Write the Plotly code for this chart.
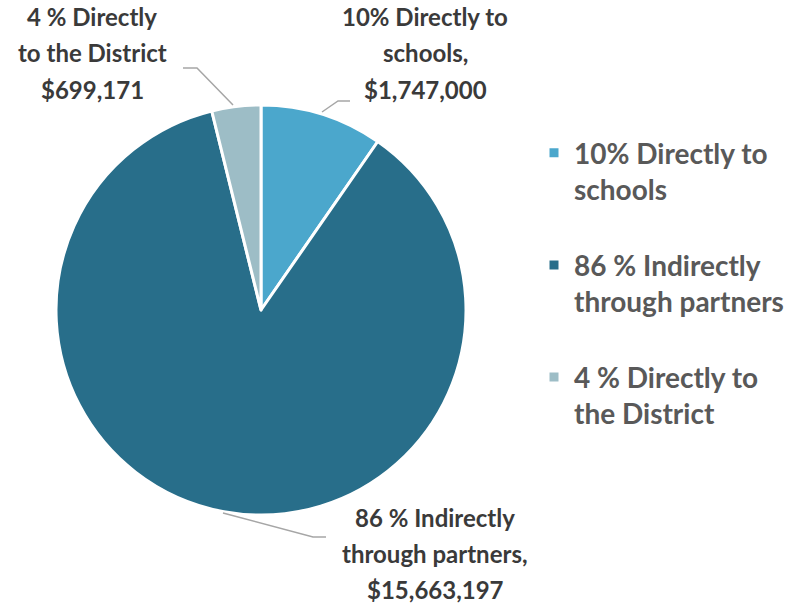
import plotly.graph_objects as go

labels = ["10% Directly to<br>schools", "86 % Indirectly<br>through partners", "4 % Directly to<br>the District"]
values = [1747000, 15663197, 699171]
colors = ["#4ba7cc", "#286e8a", "#9dbdc6"]
callouts = [["10% Directly to", "schools,", "$1,747,000"],
            ["86 % Indirectly", "through partners,", "$15,663,197"],
            ["4 % Directly", "to the District", "$699,171"]]

W, H = 812, 604
def px(x): return x / W
def py(y): return 1 - y / H

fig = go.Figure(go.Pie(
    labels=[l + "<br> " for l in labels],
    values=values,
    sort=False,
    direction="clockwise",
    rotation=0,
    marker=dict(colors=colors, line=dict(color="white", width=3)),
    textinfo="none",
    hoverinfo="label+value",
    domain=dict(x=[px(56), px(466)], y=[py(516), py(104)]),
))

label_pos = [(425, 17), (435, 517), (92, 17)]
LINE = 36
for lines, (x, y) in zip(callouts, label_pos):
    for i, t in enumerate(lines):
        fig.add_annotation(x=px(x), y=py(y + i * LINE), xref="paper", yref="paper", text=t,
                           showarrow=False, align="center", xanchor="center", yanchor="middle",
                           font=dict(family="Lato", size=24, color="#3a3a3a", weight="bold"))

leaders = [
    [(322, 112), (338, 101), (350, 101)],
    [(223, 513), (313, 537), (326, 537)],
    [(233, 105), (197, 68), (183, 68)],
]
for pts in leaders:
    path = "M " + " L ".join(f"{px(x):.5f},{py(y):.5f}" for x, y in pts)
    fig.add_shape(type="path", path=path, xref="paper", yref="paper",
                  line=dict(color="#a6a6a6", width=1.5))

fig.update_layout(
    width=W, height=H,
    margin=dict(l=0, r=0, t=0, b=0),
    paper_bgcolor="white", plot_bgcolor="white",
    showlegend=True,
    legend=dict(x=px(534), y=py(128), xanchor="left", yanchor="top",
                valign="top", traceorder="normal",
                font=dict(family="Lato", size=28, color="#595959", weight="bold"),
                itemwidth=30, bgcolor="rgba(0,0,0,0)"),
)

fig.write_html("out.html", config={"displayModeBar": False},
               post_script="document.body.style.margin='0';")
